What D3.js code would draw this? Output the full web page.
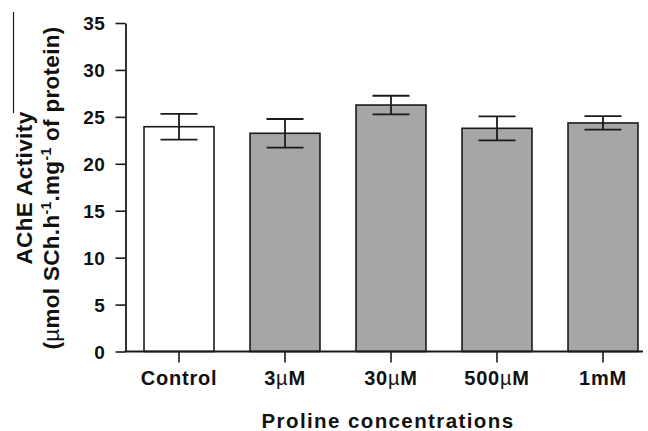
<!DOCTYPE html>
<html><head><meta charset="utf-8">
<script src="https://cdn.jsdelivr.net/npm/d3@7"></script>
<style>body{margin:0;background:#fff}svg{display:block}text{font-family:"Liberation Sans",Arial,Helvetica,sans-serif;font-weight:bold;fill:#111}</style>
</head><body><svg id="c" width="648" height="431"></svg>
<script>
const categories = ["Control", "3µM", "30µM", "500µM", "1mM"];
const values = [23.95, 23.25, 26.26, 23.78, 24.35];
const errors = [1.37, 1.52, 0.99, 1.28, 0.72];
const fills = ["#ffffff", "#a6a6a6", "#a6a6a6", "#a6a6a6", "#a6a6a6"];
const yTicks = [0, 5, 10, 15, 20, 25, 30, 35];

const svg = d3.select("#c");
const ink = "#1a1a1a";
const x = d3.scaleBand().domain(categories).range([126, 656]).paddingInner(0.34).paddingOuter(0.17);
const y = d3.scaleLinear().domain([0, 35]).range([351.5, 23]);

// bars
svg.selectAll("rect.bar").data(categories).enter().append("rect")
  .attr("x", d => x(d)).attr("width", x.bandwidth())
  .attr("y", (d, i) => y(values[i])).attr("height", (d, i) => y(0) - y(values[i]))
  .attr("fill", (d, i) => fills[i]).attr("stroke", ink).attr("stroke-width", 1.6);

// error bars
const cap = 18.5;
categories.forEach((d, i) => {
  const cx = x(d) + x.bandwidth() / 2;
  const g = svg.append("g").attr("stroke", ink).attr("stroke-width", 1.8);
  g.append("line").attr("x1", cx).attr("x2", cx).attr("y1", y(values[i] - errors[i])).attr("y2", y(values[i] + errors[i]));
  g.append("line").attr("x1", cx - cap).attr("x2", cx + cap).attr("y1", y(values[i] + errors[i])).attr("y2", y(values[i] + errors[i]));
  g.append("line").attr("x1", cx - cap).attr("x2", cx + cap).attr("y1", y(values[i] - errors[i])).attr("y2", y(values[i] - errors[i]));
});

// y axis
const yAxis = d3.axisLeft(y).tickValues(yTicks).tickSize(10).tickPadding(10).tickSizeOuter(0);
const gy = svg.append("g").attr("transform", "translate(125.5,0)").call(yAxis);
gy.select(".domain").attr("stroke", ink).attr("stroke-width", 1.8);
gy.selectAll(".tick line").attr("stroke", ink).attr("stroke-width", 1.6);
gy.selectAll(".tick text").attr("font-size", 19).attr("letter-spacing", "0.6px").attr("fill", "#111")
  .attr("font-family", "Liberation Sans, Arial, sans-serif").attr("font-weight", "bold").attr("dy", "0.36em");

// x axis
const xAxis = d3.axisBottom(x).tickSize(11).tickSizeOuter(0).tickFormat("");
const gx = svg.append("g").attr("transform", "translate(0,351.5)").call(xAxis);
gx.select(".domain").remove();
gx.selectAll(".tick line").attr("stroke", ink).attr("stroke-width", 1.6);
svg.append("line").attr("x1", 124.6).attr("x2", 643).attr("y1", 351.5).attr("y2", 351.5).attr("stroke", ink).attr("stroke-width", 1.8);

// x tick labels with µ in a lighter face
categories.forEach(d => {
  const t = svg.append("text").attr("x", x(d) + x.bandwidth() / 2).attr("y", 385)
    .attr("text-anchor", "middle").attr("font-size", 20).attr("letter-spacing", "0.8px");
  const parts = d.split("µ");
  parts.forEach((p, k) => {
    if (k > 0) t.append("tspan").attr("font-weight", "normal").text("µ");
    t.append("tspan").text(p);
  });
});

// x title
svg.append("text").attr("x", 388).attr("y", 428).attr("text-anchor", "middle")
  .attr("font-size", 20.5).attr("letter-spacing", "1.4px").text("Proline concentrations");

// y title
const yt = svg.append("g").attr("transform", "translate(0,188) rotate(-90)");
yt.append("text").attr("x", 0).attr("y", 32).attr("text-anchor", "middle")
  .attr("font-size", 22.5).attr("letter-spacing", "0.4px").text("AChE Activity");
const t2 = yt.append("text").attr("x", 0).attr("y", 58.5).attr("text-anchor", "middle")
  .attr("font-size", 22.5).attr("letter-spacing", "0.3px");
t2.append("tspan").text("(");
t2.append("tspan").attr("font-weight", "normal").text("µ");
t2.append("tspan").text("mol SCh.h");
t2.append("tspan").attr("font-size", 14).attr("dy", -8).text("-1");
t2.append("tspan").attr("dy", 8).text(".mg");
t2.append("tspan").attr("font-size", 14).attr("dy", -8).text("-1");
t2.append("tspan").attr("dy", 8).text(" of protein)");

// stray vertical rule seen in the reference, left of the axis title
svg.append("line").attr("x1", 13.5).attr("x2", 13.5).attr("y1", 12).attr("y2", 113).attr("stroke", ink).attr("stroke-width", 1.2);
</script></body></html>
